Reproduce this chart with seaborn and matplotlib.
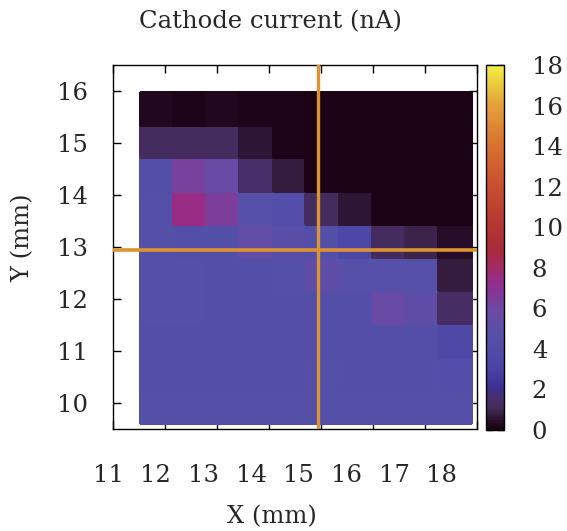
import numpy as np
import pandas as pd
import seaborn as sns
import matplotlib
matplotlib.use("Agg")
import matplotlib.pyplot as plt
from matplotlib.colors import LinearSegmentedColormap

# ---------------- data ----------------
x_mm = [11.83, 12.47, 13.11, 13.75, 14.39, 15.02, 15.66, 16.30, 16.93, 17.57]
# rows listed from top (y = 15.67) to bottom (y = 9.94)
y_mm = [15.67, 15.04, 14.40, 13.76, 13.12, 12.49, 11.85, 11.21, 10.58, 9.94]
current_nA = [
    [0.22, 0.20, 0.22, 0.18, 0.16, 0.14, 0.14, 0.12, 0.12, 0.12],
    [1.20, 1.25, 1.20, 0.60, 0.16, 0.14, 0.12, 0.12, 0.12, 0.12],
    [4.30, 6.30, 5.60, 1.45, 0.75, 0.14, 0.12, 0.12, 0.12, 0.12],
    [4.50, 7.50, 6.50, 4.60, 4.20, 1.20, 0.60, 0.14, 0.12, 0.12],
    [4.50, 4.40, 4.40, 5.30, 4.80, 4.30, 3.50, 1.20, 0.85, 0.40],
    [4.50, 4.50, 4.40, 4.40, 4.50, 5.00, 4.60, 4.60, 4.60, 0.75],
    [4.50, 4.50, 4.40, 4.40, 4.40, 4.40, 4.40, 5.60, 5.00, 1.35],
    [4.40, 4.40, 4.40, 4.40, 4.40, 4.40, 4.40, 4.40, 4.30, 3.60],
    [4.40, 4.40, 4.40, 4.40, 4.40, 4.50, 4.40, 4.40, 4.30, 4.20],
    [4.50, 4.50, 4.50, 4.50, 4.50, 4.50, 4.50, 4.50, 4.50, 4.50],
]
cross_x = 14.94
cross_y = 12.95
x_ticks = [11, 12, 13, 14, 15, 16, 17, 18]
y_ticks = [10, 11, 12, 13, 14, 15, 16]
cbar_ticks = [0, 2, 4, 6, 8, 10, 12, 14, 16, 18]

# palette anchors (value, colour)
pal_vals = [0, 0.5, 1.0, 1.5, 2, 3, 4.5, 6, 7.3, 8.3, 9, 10, 12, 14, 16, 18]
pal_cols = ["#180010", "#2a1230", "#432a55", "#47306c", "#3e2e8e", "#4a43a6",
            "#5450a8", "#6e48a2", "#962c8e", "#a52a55", "#a82a38", "#b53432",
            "#c84e30", "#d87030", "#e39f38", "#f2ef42"]

# ---------------- style ----------------
sns.set_style("white")
plt.rcParams["font.family"] = ["DejaVu Serif"]
plt.rcParams["font.size"] = 17.5
plt.rcParams["axes.linewidth"] = 1.0

cmap = LinearSegmentedColormap.from_list(
    "cath", [(v / 18.0, c) for v, c in zip(pal_vals, pal_cols)])

rows = []
for j, yy in enumerate(y_mm):
    for i, xx in enumerate(x_mm):
        rows.append({"x": xx, "y": yy, "I": current_nA[j][i]})
df = pd.DataFrame(rows)

def edges(c):
    c = np.sort(np.asarray(c, dtype=float))
    step = np.mean(np.diff(c))
    return np.concatenate([c - step / 2, [c[-1] + step / 2]])

xe = edges(x_mm)
ye = edges(y_mm)

W, H = 567, 531
fig = plt.figure(figsize=(W / 100, H / 100), dpi=100)
ax = fig.add_axes([113 / W, 1 - 429 / H, 364 / W, 364 / H])
cax = fig.add_axes([486 / W, 1 - 430 / H, 18 / W, 365 / H])

sns.histplot(data=df, x="x", y="y", weights="I", bins=(xe, ye), thresh=None,
             cmap=cmap, vmin=0, vmax=18, cbar=True, cbar_ax=cax, ax=ax)
mesh = ax.collections[0]
mesh.set_clim(0, 18)
mesh.set_edgecolor("face")

ax.axvline(cross_x, color="#dc9430", lw=2.4, zorder=5)
ax.axhline(cross_y, color="#dc9430", lw=2.6, zorder=5)

ax.set_xlim(11, 18)
ax.set_ylim(9.5, 16.5)
ax.set_xticks(x_ticks)
ax.set_xticklabels([""] * len(x_ticks))
ax.set_yticks(y_ticks)
ax.set_yticklabels([str(t) for t in y_ticks])
ax.tick_params(direction="in", top=True, right=True, bottom=True, left=True,
               length=6, width=1.0, color="black")
ax.tick_params(axis="y", pad=18)
ax.set_xlabel("")
ax.set_ylabel("")
for s in ax.spines.values():
    s.set_visible(True)
    s.set_color("black")

# x tick labels (placed as in the reference, slightly compressed)
for t in x_ticks:
    ax.text(-0.0137 + 0.131 * (t - 11), -0.1456, str(t), transform=ax.transAxes,
            ha="center", va="baseline")

cb = mesh.colorbar
cb.set_ticks(cbar_ticks)
cb.set_ticklabels([str(t) for t in cbar_ticks])
cb.outline.set_edgecolor("black")
cb.outline.set_linewidth(1.0)
cax.tick_params(direction="in", left=True, right=True, length=5, width=1.0,
                pad=20, color="#222222")

fig.text(270 / W, 1 - 28.5 / H, "Cathode current (nA)", ha="center", va="baseline")
fig.text(272 / W, 1 - 523 / H, "X (mm)", ha="center", va="baseline")
fig.text(23 / W, 1 - 238 / H, "Y (mm)", ha="center", va="center", rotation=90)

fig.savefig("out.png", dpi=100)
